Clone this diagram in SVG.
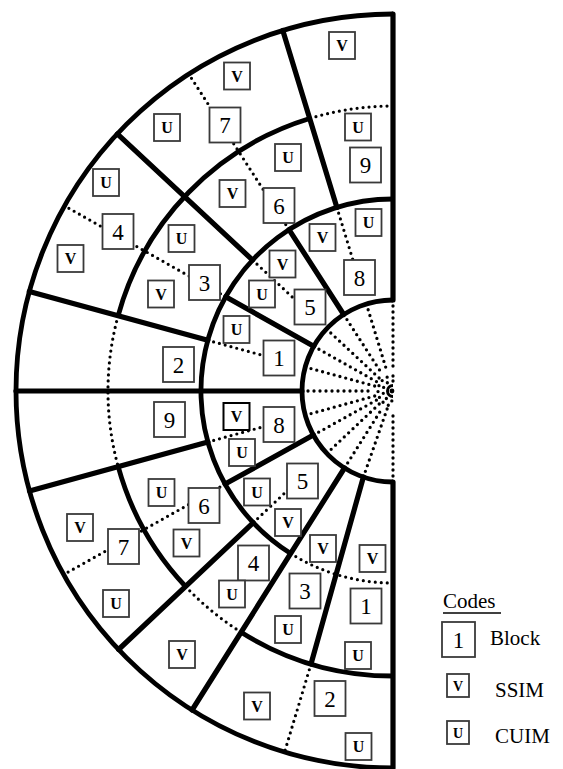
<svg xmlns="http://www.w3.org/2000/svg" width="563" height="769" viewBox="0 0 563 769">
<style>
.th{fill:none;stroke:#000;stroke-width:5.2;stroke-linecap:round}
.ar{fill:none;stroke:#000;stroke-width:4.8}
.dt{fill:none;stroke:#000;stroke-width:3.2;stroke-linecap:round;stroke-dasharray:0 6}
.fan{fill:none;stroke:#000;stroke-width:3.3;stroke-linecap:round;stroke-dasharray:0 6}
.bx{fill:#fff;stroke:#3a3a3a;stroke-width:1.8}
.bk{fill:#fff;stroke:#000;stroke-width:2}
.num{font-family:"Liberation Serif","Times New Roman",serif;font-size:23px;fill:#000;text-anchor:middle}
.cd{font-family:"Liberation Serif","Times New Roman",serif;font-size:16px;font-weight:bold;fill:#000;text-anchor:middle}
.lg{font-family:"Liberation Serif","Times New Roman",serif;font-size:21px;fill:#000}
</style>
<rect width="563" height="769" fill="#fff"/>
<g id="connectors">
<g id="fan">
<path class="fan" d="M393,300 L393,372"/>
<path class="fan" d="M366.4,304 L387.4,372.8"/>
<path class="fan" d="M343.7,314.5 L382.7,375"/>
<path class="fan" d="M326.4,328.9 L379.1,378"/>
<path class="fan" d="M313.7,346.3 L376.5,381.6"/>
<path class="fan" d="M305.2,367 L374.7,386"/>
<path class="fan" d="M302,391 L374,391"/>
<path class="fan" d="M305.3,415.2 L374.7,396"/>
<path class="fan" d="M313.4,435.1 L376.4,400.2"/>
<path class="fan" d="M326.8,453.4 L379.2,404"/>
<path class="fan" d="M344.5,468 L382.9,407.1"/>
<path class="fan" d="M363.4,477 L387.1,409"/>
<path class="fan" d="M393,482 L393,410"/>
<path class="fan" d="M393,376 A15,15 0 0 0 393,406"/>
<path class="fan" d="M393,381 A10,10 0 0 0 393,401"/>
<path fill="none" stroke="#000" stroke-width="3" d="M393,385.5 A5.5,5.5 0 0 0 393,396.5"/>
<circle cx="392" cy="391" r="2.4" fill="#000"/>
</g>
<path class="dt" d="M336.9,207.4 L353.5,261.9"/>
<path class="dt" d="M289,229.6 L188.8,74.1"/>
<path class="dt" d="M252.6,260.1 L294.3,298.9"/>
<path class="dt" d="M225.7,296.7 L64.6,205.9"/>
<path class="dt" d="M207.8,340.3 L272.4,358"/>
<path class="dt" d="M207.9,442 L267.7,425.5"/>
<path class="dt" d="M225.1,484.1 L63.3,574.8"/>
<path class="dt" d="M253.3,522.7 L291.1,487"/>
<path class="dt" d="M311,664 L284.6,752"/>
<path class="dt" d="M393,106 A285,285 0 0 0 309.7,118.5"/>
<path class="dt" d="M118.1,315.8 A285,285 0 0 0 118.2,466.7"/>
<path class="dt" d="M185.6,586.5 A285,285 0 0 0 241.1,632.2"/>
<path class="dt" d="M290.7,553.5 A192,192 0 0 0 393,583"/>
<path class="ar" d="M393,300 A91,91 0 0 0 393,482"/>
<path class="ar" d="M393,199 A192,192 0 0 0 290.7,553.5"/>
<path class="ar" d="M309.7,118.5 A285,285 0 0 0 118.1,315.8"/>
<path class="ar" d="M118.2,466.7 A285,285 0 0 0 185.6,586.5"/>
<path class="ar" d="M241.1,632.2 A285,285 0 0 0 393,676"/>
<path class="ar" d="M393,14 A377,377 0 0 0 16,391 A377,377 0 0 0 393,768"/>
<path class="th" d="M393,14 L393,300 M393,482 L393,768"/>
<path class="th" d="M336.9,207.4 L282.8,30.5"/>
<path class="th" d="M343.7,314.5 L289,229.6"/>
<path class="th" d="M252.6,260.1 L117.3,133.9"/>
<path class="th" d="M313.7,346.3 L225.7,296.7"/>
<path class="th" d="M207.8,340.3 L29.3,291.5"/>
<path class="th" d="M302,391 L16,391"/>
<path class="th" d="M207.9,442 L29.5,491.1"/>
<path class="th" d="M313.4,435.1 L225.1,484.1"/>
<path class="th" d="M253.3,522.7 L118.6,649.5"/>
<path class="th" d="M344.5,468 L192.1,710"/>
<path class="th" d="M363.4,477 L311,664"/>
</g>
<g id="blk7u"><rect class="bx" x="209.5" y="107.5" width="31" height="35"/><text class="num" x="225" y="133">7</text></g>
<g id="blk9u"><rect class="bx" x="350" y="147.5" width="31" height="35"/><text class="num" x="365.5" y="173">9</text></g>
<g id="blk6u"><rect class="bx" x="263.5" y="188" width="31" height="35"/><text class="num" x="279" y="213.5">6</text></g>
<g id="blk4u"><rect class="bx" x="102.5" y="214" width="31" height="35"/><text class="num" x="118" y="239.5">4</text></g>
<g id="blk8u"><rect class="bx" x="344" y="260" width="31" height="35"/><text class="num" x="359.5" y="285.5">8</text></g>
<g id="blk3u"><rect class="bx" x="189" y="265" width="31" height="35"/><text class="num" x="204.5" y="290.5">3</text></g>
<g id="blk5u"><rect class="bx" x="294.5" y="289.5" width="31" height="35"/><text class="num" x="310" y="315">5</text></g>
<g id="blk1u"><rect class="bx" x="263.5" y="340.5" width="31" height="35"/><text class="num" x="279" y="366">1</text></g>
<g id="blk2u"><rect class="bx" x="163" y="347" width="31" height="35"/><text class="num" x="178.5" y="372.5">2</text></g>
<g id="blk9l"><rect class="bx" x="154" y="402" width="31" height="35"/><text class="num" x="169.5" y="427.5">9</text></g>
<g id="blk8l"><rect class="bx" x="263.5" y="407" width="31" height="35"/><text class="num" x="279" y="432.5">8</text></g>
<g id="blk5l"><rect class="bx" x="287" y="463.5" width="31" height="35"/><text class="num" x="302.5" y="489">5</text></g>
<g id="blk6l"><rect class="bx" x="188.5" y="488" width="31" height="35"/><text class="num" x="204" y="513.5">6</text></g>
<g id="blk7l"><rect class="bx" x="108" y="529" width="31" height="35"/><text class="num" x="123.5" y="554.5">7</text></g>
<g id="blk4l"><rect class="bx" x="238" y="545.5" width="31" height="35"/><text class="num" x="253.5" y="571">4</text></g>
<g id="blk3l"><rect class="bx" x="289.5" y="573.5" width="31" height="35"/><text class="num" x="305" y="599">3</text></g>
<g id="blk1l"><rect class="bx" x="350.5" y="588.5" width="31" height="35"/><text class="num" x="366" y="614">1</text></g>
<g id="blk2l"><rect class="bx" x="314.5" y="681" width="31" height="35"/><text class="num" x="330" y="706.5">2</text></g>
<g id="c01"><rect class="bx" x="329" y="32" width="26" height="27"/><text class="cd" x="342" y="51">V</text></g>
<g id="c02"><rect class="bx" x="224" y="62.5" width="26" height="27"/><text class="cd" x="237" y="81.5">V</text></g>
<g id="c03"><rect class="bx" x="345" y="113.5" width="26" height="27"/><text class="cd" x="358" y="132.5">U</text></g>
<g id="c04"><rect class="bx" x="154" y="114" width="26" height="27"/><text class="cd" x="167" y="133">U</text></g>
<g id="c05"><rect class="bx" x="275" y="144" width="26" height="27"/><text class="cd" x="288" y="163">U</text></g>
<g id="c06"><rect class="bx" x="93" y="169" width="26" height="27"/><text class="cd" x="106" y="188">U</text></g>
<g id="c07"><rect class="bx" x="219.5" y="180" width="26" height="27"/><text class="cd" x="232.5" y="199">V</text></g>
<g id="c08"><rect class="bx" x="355.5" y="209" width="26" height="27"/><text class="cd" x="368.5" y="228">U</text></g>
<g id="c09"><rect class="bx" x="309.5" y="224" width="26" height="27"/><text class="cd" x="322.5" y="243">V</text></g>
<g id="c10"><rect class="bx" x="168.5" y="225" width="26" height="27"/><text class="cd" x="181.5" y="244">U</text></g>
<g id="c11"><rect class="bx" x="57.5" y="245" width="26" height="27"/><text class="cd" x="70.5" y="264">V</text></g>
<g id="c12"><rect class="bx" x="269.5" y="250.5" width="26" height="27"/><text class="cd" x="282.5" y="269.5">V</text></g>
<g id="c13"><rect class="bx" x="249" y="280.5" width="26" height="27"/><text class="cd" x="262" y="299.5">U</text></g>
<g id="c14"><rect class="bx" x="148" y="280.5" width="26" height="27"/><text class="cd" x="161" y="299.5">V</text></g>
<g id="c15"><rect class="bx" x="223.5" y="316" width="26" height="27"/><text class="cd" x="236.5" y="335">U</text></g>
<g id="c16"><rect class="bk" x="223.5" y="403" width="26" height="27"/><text class="cd" x="236.5" y="422">V</text></g>
<g id="c17"><rect class="bx" x="229" y="439" width="26" height="27"/><text class="cd" x="242" y="458">U</text></g>
<g id="c18"><rect class="bx" x="244" y="478.5" width="26" height="27"/><text class="cd" x="257" y="497.5">U</text></g>
<g id="c19"><rect class="bx" x="148.5" y="479" width="26" height="27"/><text class="cd" x="161.5" y="498">U</text></g>
<g id="c20"><rect class="bx" x="275" y="509" width="26" height="27"/><text class="cd" x="288" y="528">V</text></g>
<g id="c21"><rect class="bx" x="67" y="514" width="26" height="27"/><text class="cd" x="80" y="533">V</text></g>
<g id="c22"><rect class="bx" x="173.5" y="529.5" width="26" height="27"/><text class="cd" x="186.5" y="548.5">V</text></g>
<g id="c23"><rect class="bx" x="310" y="535" width="26" height="27"/><text class="cd" x="323" y="554">V</text></g>
<g id="c24"><rect class="bx" x="359.5" y="545" width="26" height="27"/><text class="cd" x="372.5" y="564">V</text></g>
<g id="c25"><rect class="bx" x="219" y="580.5" width="26" height="27"/><text class="cd" x="232" y="599.5">U</text></g>
<g id="c26"><rect class="bx" x="103" y="590" width="26" height="27"/><text class="cd" x="116" y="609">U</text></g>
<g id="c27"><rect class="bx" x="275" y="616" width="26" height="27"/><text class="cd" x="288" y="635">U</text></g>
<g id="c28"><rect class="bx" x="169" y="641" width="26" height="27"/><text class="cd" x="182" y="660">V</text></g>
<g id="c29"><rect class="bx" x="345" y="642" width="26" height="27"/><text class="cd" x="358" y="661">U</text></g>
<g id="c30"><rect class="bx" x="244" y="692.5" width="26" height="27"/><text class="cd" x="257" y="711.5">V</text></g>
<g id="c31"><rect class="bx" x="345.5" y="733" width="26" height="27"/><text class="cd" x="358.5" y="752">U</text></g>
<g id="legend">
<text class="lg" x="443" y="608">Codes</text>
<line x1="443" y1="613" x2="501" y2="613" stroke="#000" stroke-width="1.3"/>
<g id="lg-block"><rect class="bx" x="442" y="622" width="33" height="35"/><text class="num" x="458.5" y="647.5">1</text><text class="lg" x="490" y="645">Block</text></g>
<g id="lg-ssim"><rect class="bx" x="447" y="674" width="22" height="23"/><text class="cd" x="458" y="690.5" style="font-size:14px">V</text><text class="lg" x="495" y="697">SSIM</text></g>
<g id="lg-cuim"><rect class="bx" x="447" y="721" width="22" height="23"/><text class="cd" x="458" y="737.5" style="font-size:14px">U</text><text class="lg" x="495" y="743">CUIM</text></g>
</g>
</svg>
